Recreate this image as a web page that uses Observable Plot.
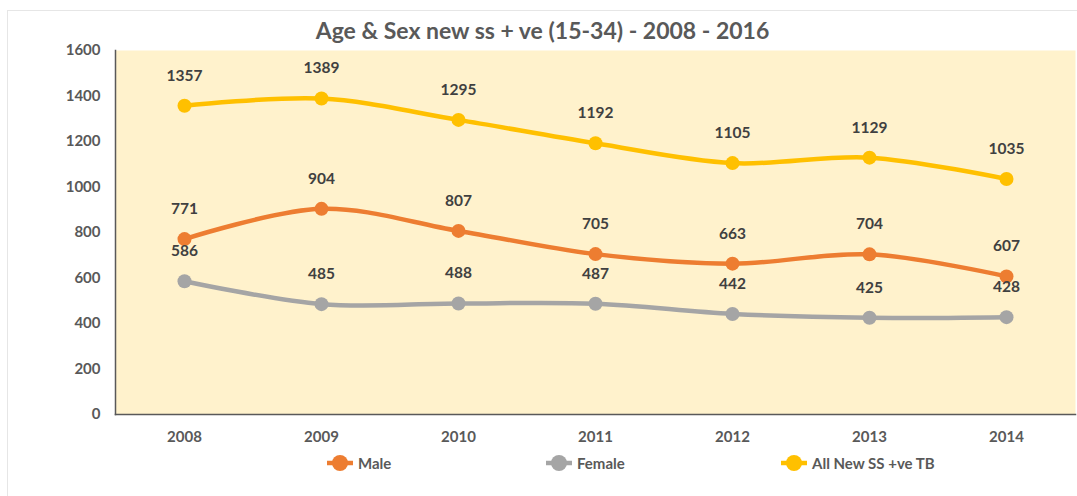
<!DOCTYPE html>
<html>
<head>
<meta charset="utf-8">
<script src="https://cdn.jsdelivr.net/npm/d3@7"></script>
<script src="https://cdn.jsdelivr.net/npm/@observablehq/plot@0.6"></script>
<style>
  html, body { margin: 0; padding: 0; background: #fff; }
  body { width: 1077px; height: 496px; overflow: hidden; font-family: Lato, "Open Sans", sans-serif; }
  #wrap { position: absolute; left: 7px; top: 10px; width: 1080px; height: 500px; border: 1px solid #e6e6e6; box-sizing: border-box; }
  #title { position: absolute; left: 0; top: 16px; width: 1085px; text-align: center; font-size: 23px; font-weight: 700; color: #595959; line-height: 28px; }
  #chart { position: absolute; left: 0; top: 40px; }
  #legend { position: absolute; top: 453px; left: 0; width: 1077px; height: 20px; font-size: 15px; font-weight: 700; color: #595959; }
  .item { position: absolute; top: 0; display: flex; align-items: center; height: 20px; }
  .item svg { margin-right: 4px; }
</style>
</head>
<body>
<div id="wrap"></div>
<div id="title">Age &amp; Sex new ss + ve (15-34) - 2008 - 2016</div>
<div id="chart"></div>
<div id="legend"></div>
<script>
const years = ["2008", "2009", "2010", "2011", "2012", "2013", "2014"];
const male = [771, 904, 807, 705, 663, 704, 607];
const female = [586, 485, 488, 487, 442, 425, 428];
const allNew = [1357, 1389, 1295, 1192, 1105, 1129, 1035];
const seriesNames = ["Male", "Female", "All New SS +ve TB"];
const seriesColors = ["#ED7D31", "#A5A5A5", "#FFC000"];
const yTicks = [0, 200, 400, 600, 800, 1000, 1200, 1400, 1600];

const seriesValues = [male, female, allNew];
const data = [];
seriesNames.forEach((s, i) => {
  years.forEach((y, j) => data.push({series: s, year: y, value: seriesValues[i][j]}));
});

const chart = Plot.plot({
  width: 1077,
  height: 409,
  marginTop: 10,
  marginLeft: 115,
  marginRight: 2,
  marginBottom: 35,
  style: {fontFamily: "Lato, 'Open Sans', sans-serif", fontSize: "14px", fontWeight: 700, color: "#595959", background: "transparent"},
  x: {type: "point", domain: years, padding: 0.5, label: null},
  y: {domain: [0, 1600], label: null},
  color: {domain: seriesNames, range: seriesColors},
  marks: [
    Plot.frame({fill: "#FFF2CC", stroke: null}),
    Plot.axisY({ticks: yTicks, tickFormat: d => String(d), tickSize: 0, tickPadding: 15, label: null, fontSize: 15, fontWeight: 700, fill: "#595959"}),
    Plot.axisX({tickSize: 0, tickPadding: 17, label: null, fontSize: 15, fontWeight: 700, fill: "#595959"}),
    Plot.frame({anchor: "left", stroke: "#595959", strokeWidth: 1.5}),
    Plot.frame({anchor: "bottom", stroke: "#595959", strokeWidth: 1.5}),
    Plot.line(data, {x: "year", y: "value", z: "series", stroke: "series", strokeWidth: 4.5, curve: "catmull-rom"}),
    Plot.dot(data, {x: "year", y: "value", fill: "series", r: 7}),
    Plot.text(data, {x: "year", y: "value", text: d => String(d.value), dy: -30, fill: "#404040", fontSize: 15.5, fontWeight: 700})
  ]
});
document.getElementById("chart").appendChild(chart);

const legend = document.getElementById("legend");
const legendX = [326, 545, 780];
seriesNames.forEach((s, i) => {
  const div = document.createElement("div");
  div.className = "item";
  div.style.left = legendX[i] + "px";
  div.innerHTML = `<svg width="28" height="20"><line x1="1" y1="10" x2="27" y2="10" stroke="${seriesColors[i]}" stroke-width="4.5"/><circle cx="14" cy="10" r="8" fill="${seriesColors[i]}"/></svg><span>${s}</span>`;
  legend.appendChild(div);
});
</script>
</body>
</html>
